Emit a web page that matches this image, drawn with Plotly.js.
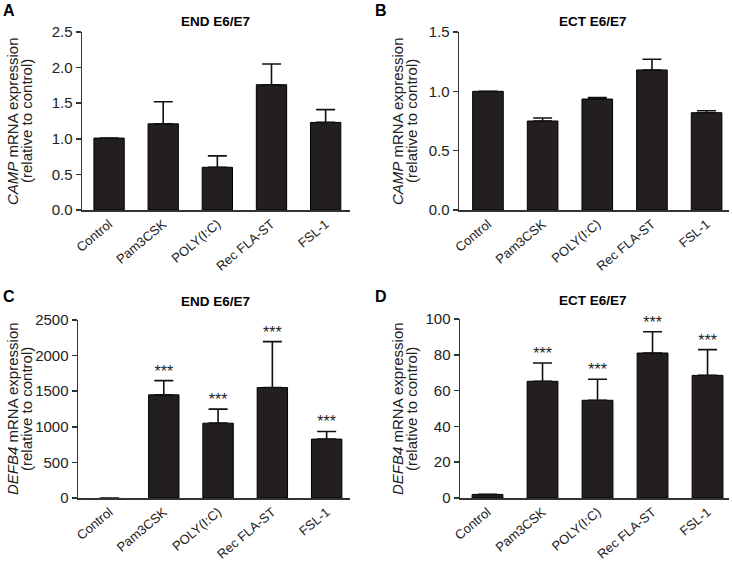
<!DOCTYPE html>
<html>
<head>
<meta charset="utf-8">
<script src="https://cdn.plot.ly/plotly-3.0.1.min.js"></script>
<style>html,body{margin:0;padding:0;background:#fff}#chart{width:732px;height:564px}</style>
</head>
<body>
<div id="chart"></div>
<script>
// ---- data ----
const categories = ["Control", "Pam3CSK", "POLY(I:C)", "Rec FLA-ST", "FSL-1"];

const campEndMean = [1.01, 1.21, 0.60, 1.76, 1.23];
const campEndErr  = [null, 0.31, 0.16, 0.29, 0.18];

const campEctMean = [1.00, 0.75, 0.935, 1.18, 0.82];
const campEctErr  = [null, 0.025, 0.013, 0.09, 0.016];

const defbEndMean = [1, 1449, 1051, 1551, 827];
const defbEndErr  = [null, 200, 197, 645, 108];
const defbEndSig  = ["", "***", "***", "***", "***"];

const defbEctMean = [2, 65.2, 54.6, 81.0, 68.5];
const defbEctErr  = [null, 10.2, 11.7, 11.9, 14.4];
const defbEctSig  = ["", "***", "***", "***", "***"];

const panelLetters = ["A", "B", "C", "D"];
const panelTitles = ["END E6/E7", "ECT E6/E7", "END E6/E7", "ECT E6/E7"];
const yTitleLines = [
  ["<i>CAMP</i> mRNA expression", "(relative to control)"],
  ["<i>CAMP</i> mRNA expression", "(relative to control)"],
  ["<i>DEFB4</i> mRNA expression", "(relative to control)"],
  ["<i>DEFB4</i> mRNA expression", "(relative to control)"]
];

// ---- styling / layout ----
const W = 732, H = 564;
const FONT = "Liberation Sans, Arial, sans-serif";
const BAR = "#231f20";
const idx = categories.map((_, i) => i);

function px(x) { return x / W; }
function py(y) { return 1 - y / H; }

const panels = [
  {mean: campEndMean, err: campEndErr, sig: null, xa: "x", ya: "y", outline: [1,1,1,1,1],
   xdom: [82, 350], ydom: [210, 32], xr: [-0.5, 4.45], yr: [0, 2.5], dtick: 0.5, fmt: ".1f",
   letter: [9, 11], title: [215, 21], ytitle: [12, 26], ymid: 121},
  {mean: campEctMean, err: campEctErr, sig: null, xa: "x2", ya: "y2", outline: [1,1,1,1,1],
   xdom: [459, 729], ydom: [210, 32], xr: [-0.53, 4.41], yr: [0, 1.5], dtick: 0.5, fmt: ".1f",
   letter: [381, 11], title: [593, 21], ytitle: [397, 411], ymid: 121},
  {mean: defbEndMean, err: defbEndErr, sig: defbEndSig, xa: "x3", ya: "y3", outline: [0,1,1,1,1],
   xdom: [78, 350], ydom: [498, 320], xr: [-0.58, 4.43], yr: [0, 2500], dtick: 500, fmt: "d",
   letter: [9, 296], title: [215, 301], ytitle: [12, 26], ymid: 409},
  {mean: defbEctMean, err: defbEctErr, sig: defbEctSig, xa: "x4", ya: "y4", outline: [1,1,1,1,1],
   xdom: [460, 729], ydom: [498, 319], xr: [-0.5, 4.39], yr: [0, 100], dtick: 20, fmt: "d",
   letter: [381, 296], title: [593, 300], ytitle: [397, 411], ymid: 409}
];

const traces = [];
const layout = {
  width: W, height: H,
  margin: {l: 0, r: 0, t: 0, b: 0},
  paper_bgcolor: "#fff", plot_bgcolor: "#fff",
  showlegend: false,
  font: {family: FONT, size: 13, color: "#222"},
  annotations: []
};

panels.forEach((p, k) => {
  traces.push({
    type: "bar", x: idx, y: p.mean, xaxis: p.xa, yaxis: p.ya,
    width: 0.56,
    marker: {color: BAR, line: {color: "#000", width: p.outline}},
    error_y: {type: "data", symmetric: false, array: p.err, arrayminus: p.err.map(e => e === null ? null : 0),
              color: "#111", thickness: 1.6, width: 9.5},
    hoverinfo: "none"
  });
  if (p.sig) {
    traces.push({
      type: "scatter", mode: "text", x: idx, y: p.mean.map((m, i) => m + (p.err[i] || 0)),
      text: p.sig, textposition: "top center", xaxis: p.xa, yaxis: p.ya,
      textfont: {family: FONT, size: 16, color: "#222"}, cliponaxis: false, hoverinfo: "none"
    });
  }
  const xk = "xaxis" + (k ? k + 1 : "");
  const yk = "yaxis" + (k ? k + 1 : "");
  layout[xk] = {
    domain: [px(p.xdom[0]), px(p.xdom[1])], anchor: p.ya,
    range: p.xr, tickmode: "array", tickvals: idx, ticktext: categories,
    tickangle: -40, ticks: "", showgrid: false, zeroline: false,
    showline: true, linecolor: "#333", linewidth: 1.5,
    tickfont: {family: FONT, size: 13, color: "#222"}, fixedrange: true
  };
  layout[yk] = {
    domain: [py(p.ydom[0]), py(p.ydom[1])], anchor: p.xa,
    range: p.yr, dtick: p.dtick, tick0: 0, tickformat: p.fmt,
    ticks: "outside", ticklen: 5, tickwidth: 1.5, tickcolor: "#333",
    showgrid: false, zeroline: false, showline: true, linecolor: "#333", linewidth: 1.5,
    tickfont: {family: FONT, size: 15, color: "#222"}, fixedrange: true
  };
  layout.annotations.push({
    xref: "paper", yref: "paper", x: px(p.letter[0]), y: py(p.letter[1]),
    xanchor: "center", yanchor: "middle", showarrow: false,
    text: "<b>" + panelLetters[k] + "</b>", font: {family: FONT, size: 16, color: "#000"}
  });
  layout.annotations.push({
    xref: "paper", yref: "paper", x: px(p.title[0]), y: py(p.title[1]),
    xanchor: "center", yanchor: "middle", showarrow: false,
    text: "<b>" + panelTitles[k] + "</b>", font: {family: FONT, size: 13.5, color: "#000"}
  });
  yTitleLines[k].forEach((line, j) => {
    layout.annotations.push({
      xref: "paper", yref: "paper", x: px(p.ytitle[j]), y: py(p.ymid),
      xanchor: "center", yanchor: "middle", showarrow: false, textangle: -90,
      text: line, font: {family: FONT, size: 15, color: "#222"}
    });
  });
});

Plotly.newPlot("chart", traces, layout, {displayModeBar: false, staticPlot: true});
</script>
</body>
</html>
